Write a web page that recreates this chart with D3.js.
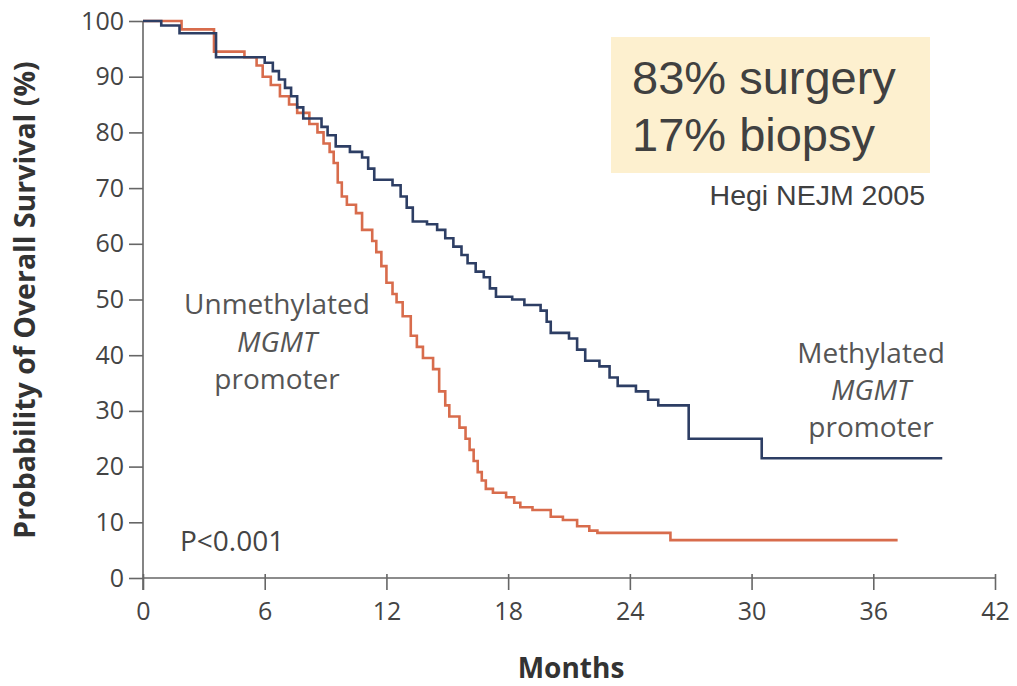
<!DOCTYPE html>
<html><head><meta charset="utf-8">
<script src="https://cdn.jsdelivr.net/npm/d3@7"></script>
<style>body{margin:0;background:#fff;} svg{display:block;}</style>
</head><body>
<svg id="chart" width="1017" height="686"></svg>
<script>
// ---- data ----
const xTicks = [0, 6, 12, 18, 24, 30, 36, 42];
const yTicks = [0, 10, 20, 30, 40, 50, 60, 70, 80, 90, 100];
// Methylated MGMT promoter: [month, survival %] (step after)
const methylated = [
  [0,100],[0.9,99.2],[1.8,97.8],[3.6,93.5],[6.0,92.5],[6.4,91],[6.7,89.5],[7.0,88],[7.3,86.5],
  [7.6,84.5],[7.9,82.5],[8.8,81],[9.1,79.5],[9.5,77.5],[10.2,76.5],[10.8,75.5],[11.1,73.5],
  [11.4,71.5],[12.3,70.5],[12.7,68.5],[13.0,66.5],[13.3,64],[14.0,63.5],[14.5,62.5],[14.9,61],
  [15.3,59.5],[15.7,58],[16.0,56.5],[16.4,55],[16.8,54],[17.1,52],[17.4,50.5],[18.2,50],
  [18.8,49],[19.6,48],[19.9,46],[20.1,44],[21.0,43],[21.4,41],[21.8,39],[22.5,38],[23.0,36],
  [23.4,34.5],[24.3,33.5],[24.9,32],[25.4,31],[26.9,25],[30.5,21.5],[39.4,21.5]
];
// Unmethylated MGMT promoter
const unmethylated = [
  [0,100],[1.9,98.5],[3.5,94.5],[5.0,93.5],[5.6,92],[5.9,90],[6.3,88.5],[6.75,86.5],[7.2,85],
  [7.6,83.5],[8.2,81.5],[8.6,80],[8.9,78],[9.2,76.5],[9.4,74.5],[9.6,71],[9.8,68.5],[10.05,67],
  [10.5,65.5],[10.8,62.5],[11.3,60.5],[11.5,58.5],[11.75,56],[12.0,53],[12.3,51],[12.5,49.5],
  [12.8,47],[13.2,43.5],[13.5,41.5],[13.8,39.5],[14.3,37.5],[14.6,33.5],[14.9,31],[15.1,29],
  [15.6,27],[15.9,25],[16.1,23],[16.3,21],[16.5,19],[16.7,17.5],[16.9,16],[17.25,15.3],
  [17.9,14.5],[18.3,13.5],[18.6,12.7],[19.2,12.2],[20.1,11],[20.7,10.4],[21.4,9.3],[22.0,8.5],
  [22.4,8.1],[26.0,6.8],[37.2,6.8]
];
const yLabel = "Probability of Overall Survival (%)";
const xLabel = "Months";

// ---- layout ----
const svg = d3.select("#chart");
const x = d3.scaleLinear().domain([0, 42]).range([143, 995]);
const y = d3.scaleLinear().domain([0, 100]).range([578, 21]);
const axisColor = "#666";
const font = "'Open Sans', 'Noto Sans', sans-serif";

// y axis
const gy = svg.append("g").attr("transform", `translate(${x(0)},0)`)
  .call(d3.axisLeft(y).tickValues(yTicks).tickSize(14).tickPadding(5));
gy.select(".domain").attr("stroke", axisColor).attr("stroke-width", 1.6)
  .attr("d", `M0,${y(100)}V${y(0)+12}`);
gy.selectAll(".tick line").attr("stroke", axisColor).attr("stroke-width", 1.6);
gy.selectAll(".tick text").attr("font-family", font).attr("font-size", 25).attr("fill", "#444");

// x axis
const gx = svg.append("g").attr("transform", `translate(0,${y(0)})`)
  .call(d3.axisBottom(x).tickValues(xTicks).tickSize(12).tickPadding(12));
gx.select(".domain").attr("stroke", axisColor).attr("stroke-width", 1.6)
  .attr("d", `M${x(0)},0H${x(42)}`);
gx.selectAll(".tick line").attr("stroke", axisColor).attr("stroke-width", 1.6)
  .attr("y1", -4);
gx.selectAll(".tick text").attr("font-family", font).attr("font-size", 25).attr("fill", "#444");

// curves
const line = d3.line().x(d => x(d[0])).y(d => y(d[1])).curve(d3.curveStepAfter);
svg.append("path").datum(unmethylated).attr("d", line)
  .attr("fill", "none").attr("stroke", "#d86c4c").attr("stroke-width", 2.6);
svg.append("path").datum(methylated).attr("d", line)
  .attr("fill", "none").attr("stroke", "#2d3e64").attr("stroke-width", 2.6);

// axis labels
svg.append("text").attr("transform", `translate(35,300) rotate(-90)`)
  .attr("text-anchor", "middle").attr("font-family", font).attr("font-weight", "bold")
  .attr("font-size", 28.5).attr("fill", "#333").text(yLabel);
svg.append("text").attr("x", 571).attr("y", 678).attr("text-anchor", "middle")
  .attr("font-family", font).attr("font-weight", "bold").attr("font-size", 28)
  .attr("fill", "#333").text(xLabel);

// curve annotations
function block(cx, ys, lines) {
  lines.forEach((t, i) => {
    svg.append("text").attr("x", cx).attr("y", ys[i]).attr("text-anchor", "middle")
      .attr("font-family", font).attr("font-size", 28).attr("fill", "#555")
      .attr("font-style", t.italic ? "italic" : "normal").text(t.s);
  });
}
block(277, [314, 352, 389], [{s:"Unmethylated"},{s:"MGMT", italic:true},{s:"promoter"}]);
block(871, [363, 400, 437], [{s:"Methylated"},{s:"MGMT", italic:true},{s:"promoter"}]);
svg.append("text").attr("x", 180).attr("y", 551).attr("font-family", font)
  .attr("font-size", 28).attr("fill", "#444").text("P<0.001");

// note box
svg.append("rect").attr("x", 611).attr("y", 37).attr("width", 319).attr("height", 136)
  .attr("fill", "#fdf0cf");
const boxFont = "'Liberation Sans', Arial, sans-serif";
svg.append("text").attr("x", 632).attr("y", 94).attr("font-family", boxFont)
  .attr("font-size", 47).attr("fill", "#404040").text("83% surgery");
svg.append("text").attr("x", 632).attr("y", 151).attr("font-family", boxFont)
  .attr("font-size", 47).attr("fill", "#404040").text("17% biopsy");
svg.append("text").attr("x", 925).attr("y", 205).attr("text-anchor", "end")
  .attr("font-family", boxFont).attr("font-size", 28.5).attr("fill", "#404040").text("Hegi NEJM 2005");
</script>
</body></html>
